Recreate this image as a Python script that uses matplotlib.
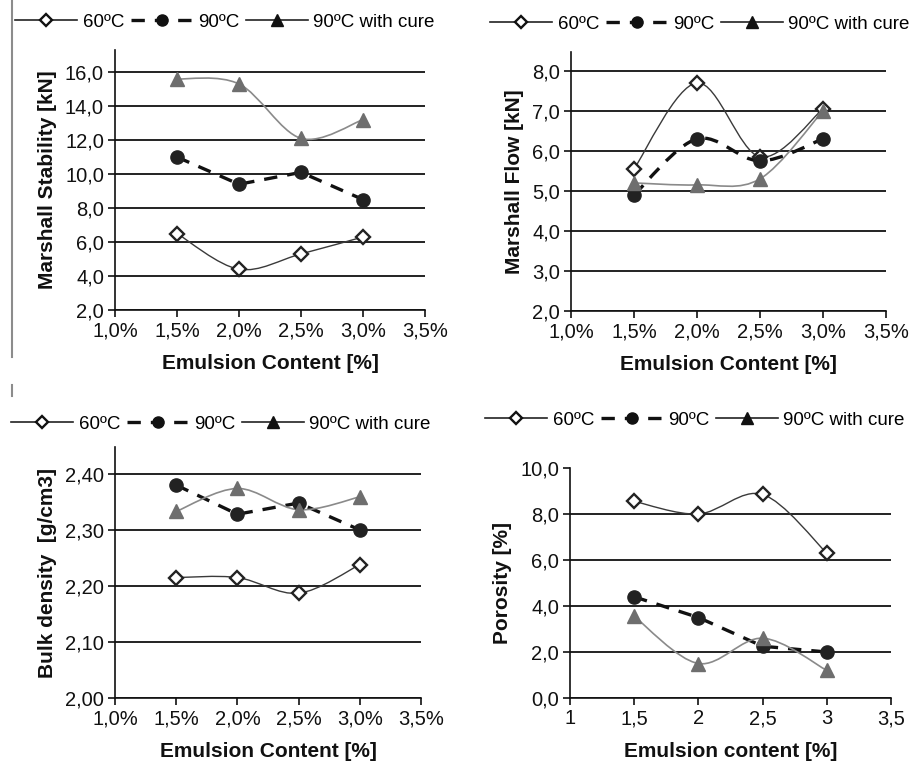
import matplotlib
matplotlib.use("Agg")
import matplotlib.pyplot as plt
from matplotlib.path import Path
from matplotlib.patches import PathPatch
from matplotlib.lines import Line2D
from matplotlib.ticker import FuncFormatter

plt.rcParams['font.family'] = ['Liberation Sans', 'DejaVu Sans']

# emulsion content [%] for every test
emulsion = [1.5, 2.0, 2.5, 3.0]
names = ["60ºC", "90ºC", "90ºC with cure"]

# Marshall stability [kN]
stab_60 = [6.5, 4.4, 5.3, 6.3]
stab_90 = [11.0, 9.4, 10.1, 8.5]
stab_cure = [15.6, 15.3, 12.1, 13.2]

# Marshall flow [kN]
flow_60 = [5.55, 7.7, 5.85, 7.05]
flow_90 = [4.9, 6.3, 5.75, 6.3]
flow_cure = [5.2, 5.15, 5.3, 7.0]

# bulk density [g/cm3]
dens_60 = [2.215, 2.215, 2.187, 2.238]
dens_90 = [2.38, 2.328, 2.348, 2.30]
dens_cure = [2.333, 2.374, 2.336, 2.359]

# porosity [%]
por_60 = [8.55, 8.0, 8.85, 6.3]
por_90 = [4.4, 3.5, 2.25, 2.0]
por_cure = [3.55, 1.5, 2.6, 1.2]

W, H = 916, 766


def smooth_path(xs, ys):
    # excel-like smoothed line: cubic bezier through every point
    pts = list(zip(xs, ys))
    n = len(pts)
    verts = [pts[0]]
    codes = [Path.MOVETO]
    for i in range(n - 1):
        p0 = pts[i - 1] if i > 0 else pts[i]
        p1 = pts[i]
        p2 = pts[i + 1]
        p3 = pts[i + 2] if i + 2 < n else pts[i + 1]
        c1 = (p1[0] + (p2[0] - p0[0]) / 6, p1[1] + (p2[1] - p0[1]) / 6)
        c2 = (p2[0] - (p3[0] - p1[0]) / 6, p2[1] - (p3[1] - p1[1]) / 6)
        verts += [c1, c2, p2]
        codes += [Path.CURVE4] * 3
    return Path(verts, codes)


styles = [
    dict(color='#3a3a3a', lw=1.0, ls='-', marker='D', ms=7.5, mfc='white', mec='#222222', mew=1.7),
    dict(color='#111111', lw=2.4, ls=(0, (4, 3)), marker='o', ms=9.5, mfc='#222222', mec='#222222', mew=1),
    dict(color='#8a8a8a', lw=1.2, ls='-', marker='^', ms=9.5, mfc='#6e6e6e', mec='#6e6e6e', mew=1),
]


def draw_panel(rect, series, smooth, ylim, yticks, yfmt, xfmt, ylabel, xlabel, hide_top_grid=False):
    ax = fig.add_axes([rect[0] / W, 1 - rect[3] / H, (rect[2] - rect[0]) / W, (rect[3] - rect[1]) / H])
    for ys, st, sm in zip(series, styles, smooth):
        if sm:
            patch = PathPatch(smooth_path(emulsion, ys), fill=False, edgecolor=st['color'],
                              lw=st['lw'], ls=st['ls'], zorder=3)
            ax.add_patch(patch)
        else:
            ax.plot(emulsion, ys, color=st['color'], lw=st['lw'], ls=st['ls'], zorder=3)
        ax.plot(emulsion, ys, ls='none', marker=st['marker'], ms=st['ms'], mfc=st['mfc'],
                mec=st['mec'], mew=st['mew'], zorder=4)
    ax.set_xlim(1.0, 3.5)
    ax.set_xticks([1.0, 1.5, 2.0, 2.5, 3.0, 3.5])
    ax.set_ylim(*ylim)
    ax.set_yticks(yticks)
    ax.xaxis.set_major_formatter(FuncFormatter(xfmt))
    ax.yaxis.set_major_formatter(FuncFormatter(yfmt))
    ax.grid(axis='y', color='#111111', lw=1.3, zorder=1)
    if hide_top_grid:
        ax.get_ygridlines()[-1].set_visible(False)
    ax.set_axisbelow(True)
    for s in ['top', 'right']:
        ax.spines[s].set_visible(False)
    for s in ['left', 'bottom']:
        ax.spines[s].set_color('#111111')
        ax.spines[s].set_linewidth(1.2)
    ax.tick_params(axis='both', direction='out', length=5, width=1.2, color='#111111',
                   labelsize=14.5, labelcolor='#111111', pad=3)
    ax.set_ylabel(ylabel, fontsize=15, fontweight='bold', color='#111111', labelpad=6)
    ax.set_xlabel(xlabel, fontsize=15, fontweight='bold', color='#111111', labelpad=10)
    ax.patch.set_alpha(0)
    return ax


def legend_at(cx, cy):
    handles = []
    for st, nm in zip(styles, names):
        handles.append(Line2D([0], [0], color=st['color'] if st['ls'] != '-' else '#222222',
                              lw=max(st['lw'], 1.2), ls=st['ls'], marker=st['marker'],
                              ms=st['ms'] - 1.5, mfc=st['mfc'] if st['marker'] == 'D' else '#111111',
                              mec='#111111', mew=st['mew'], label=nm))
    fig.legend(handles=handles, loc='center', bbox_to_anchor=(cx / W, 1 - cy / H), ncol=3,
               frameon=False, fontsize=13.5, handlelength=3.3, handletextpad=0.3,
               columnspacing=0.35, borderpad=0)


pct1 = lambda v, p: ('%.1f%%' % v).replace('.', ',')
num1 = lambda v, p: ('%.1f' % v).replace('.', ',')
num2 = lambda v, p: ('%.2f' % v).replace('.', ',')
plain = lambda v, p: ('%g' % v).replace('.', ',')

fig = plt.figure(figsize=(W / 100, H / 100), dpi=100)

draw_panel((115, 50, 425, 310), [stab_60, stab_90, stab_cure], [True, False, True],
           (2, 17.3), [2, 4, 6, 8, 10, 12, 14, 16], num1, pct1,
           'Marshall Stability [kN]', 'Emulsion Content [%]')
legend_at(225, 22)

draw_panel((571, 52, 886, 311), [flow_60, flow_90, flow_cure], [True, True, True],
           (2, 8.47), [2, 3, 4, 5, 6, 7, 8], num1, pct1,
           'Marshall Flow [kN]', 'Emulsion Content [%]')
legend_at(700, 24)

draw_panel((115, 447, 421, 698), [dens_60, dens_90, dens_cure], [True, False, True],
           (2.0, 2.448), [2.0, 2.1, 2.2, 2.3, 2.4], num2, pct1,
           'Bulk density  [g/cm3]', 'Emulsion Content [%]')
legend_at(221, 424)

draw_panel((570, 468, 891, 698), [por_60, por_90, por_cure], [True, False, True],
           (0, 10), [0, 2, 4, 6, 8, 10], num1, plain,
           'Porosity [%]', 'Emulsion content [%]', hide_top_grid=True)
legend_at(695, 420)

# thin vertical separator on the left edge, as in the scanned figure
fig.add_artist(Line2D([12 / W, 12 / W], [1, 1 - 357 / H], color='#8c8c8c', lw=1.5))
fig.add_artist(Line2D([12 / W, 12 / W], [1 - 385 / H, 1 - 396 / H], color='#8c8c8c', lw=1.5))

fig.savefig('out.png', dpi=100)
